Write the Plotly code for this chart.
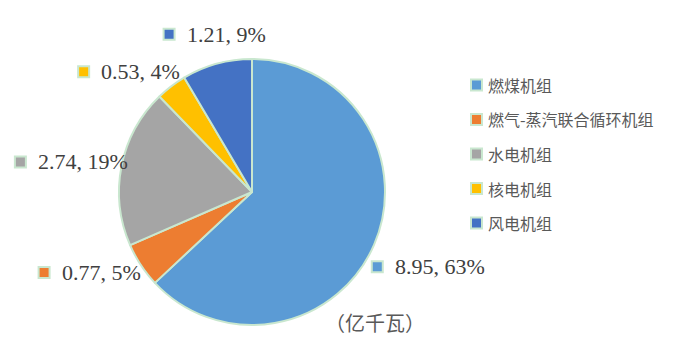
import math
import plotly.graph_objects as go

# 发电机组装机容量（亿千瓦）
categories = ["燃煤机组", "燃气-蒸汽联合循环机组", "水电机组", "核电机组", "风电机组"]
values = [8.95, 0.77, 2.74, 0.53, 1.21]
colors = ["#5B9BD5", "#ED7D31", "#A5A5A5", "#FFC000", "#4472C4"]
unit_label = "（亿千瓦）"

# hand-tuned nudges (px) for the outside data labels
label_nudge = [(-5, 15), (-4, -2), (11, -1), (-8, -1), (12, -13)]

W, H = 675, 342
EDGE = "#C9E7CF"
NUM_FONT = "Liberation Serif"
CJK_FONT = "Noto Sans CJK SC"

# pie geometry in pixels
cx, cy, r = 252, 192, 133


def px(x):
    return x / W


def py(y):
    return 1 - y / H


fig = go.Figure(
    go.Pie(
        labels=categories,
        values=values,
        sort=False,
        direction="clockwise",
        rotation=0,
        textinfo="none",
        hoverinfo="label+value+percent",
        marker=dict(colors=colors, line=dict(color=EDGE, width=2)),
        domain=dict(x=[px(cx - r), px(cx + r)], y=[py(cy + r), py(cy - r)]),
        showlegend=False,
    )
)

shapes = []
annotations = []


def square(x0, yc, color, size=13):
    shapes.append(
        dict(
            type="rect", xref="paper", yref="paper",
            x0=px(x0 + 1), x1=px(x0 + size - 1),
            y0=py(yc + size / 2 - 1), y1=py(yc - size / 2 + 1),
            fillcolor=color, line=dict(color=EDGE, width=2), layer="above",
        )
    )


def text_width(s, size):
    w = 0
    for ch in s:
        if ch.isdigit():
            w += 0.5
        elif ch in ".,  ":
            w += 0.25
        elif ch == "%":
            w += 0.833
        else:
            w += 0.5
    return w * size


# data labels: value and share, placed outside each slice
total = sum(values)
label_size = 22
cum = 0.0
for v, c, (nx, ny) in zip(values, colors, label_nudge):
    mid = (cum + v / 2) / total * 2 * math.pi
    cum += v
    dx, dy = math.sin(mid), -math.cos(mid)
    txt = f"{v:.2f}, {round(v / total * 100)}%"
    bw = 13 + 10 + text_width(txt, label_size)
    bh = 20
    rl = r + 7
    bxc = cx + dx * rl + dx * bw / 2 + nx
    byc = cy + dy * rl + dy * bh / 2 + ny
    x0 = bxc - bw / 2
    square(x0, byc, c)
    annotations.append(
        dict(
            x=px(x0 + 22), y=py(byc), xref="paper", yref="paper",
            text=txt, showarrow=False, xanchor="left", yanchor="middle",
            font=dict(family=NUM_FONT, size=label_size, color="#404040"),
        )
    )

# legend
leg_x, leg_y0, leg_step = 470, 85, 34.5
for i, (name, c) in enumerate(zip(categories, colors)):
    yc = leg_y0 + i * leg_step
    square(leg_x, yc, c)
    annotations.append(
        dict(
            x=px(leg_x + 16), y=py(yc), xref="paper", yref="paper",
            text=name, showarrow=False, xanchor="left", yanchor="middle",
            font=dict(family=CJK_FONT, size=16, color="#595959"),
        )
    )

# unit
annotations.append(
    dict(
        x=px(375), y=py(322), xref="paper", yref="paper",
        text=unit_label, showarrow=False, xanchor="center", yanchor="middle",
        font=dict(family=CJK_FONT, size=20, color="#595959"),
    )
)

fig.update_layout(
    width=W, height=H,
    margin=dict(l=0, r=0, t=0, b=0),
    paper_bgcolor="white", plot_bgcolor="white",
    shapes=shapes, annotations=annotations,
)

fig.write_html("out.html")
